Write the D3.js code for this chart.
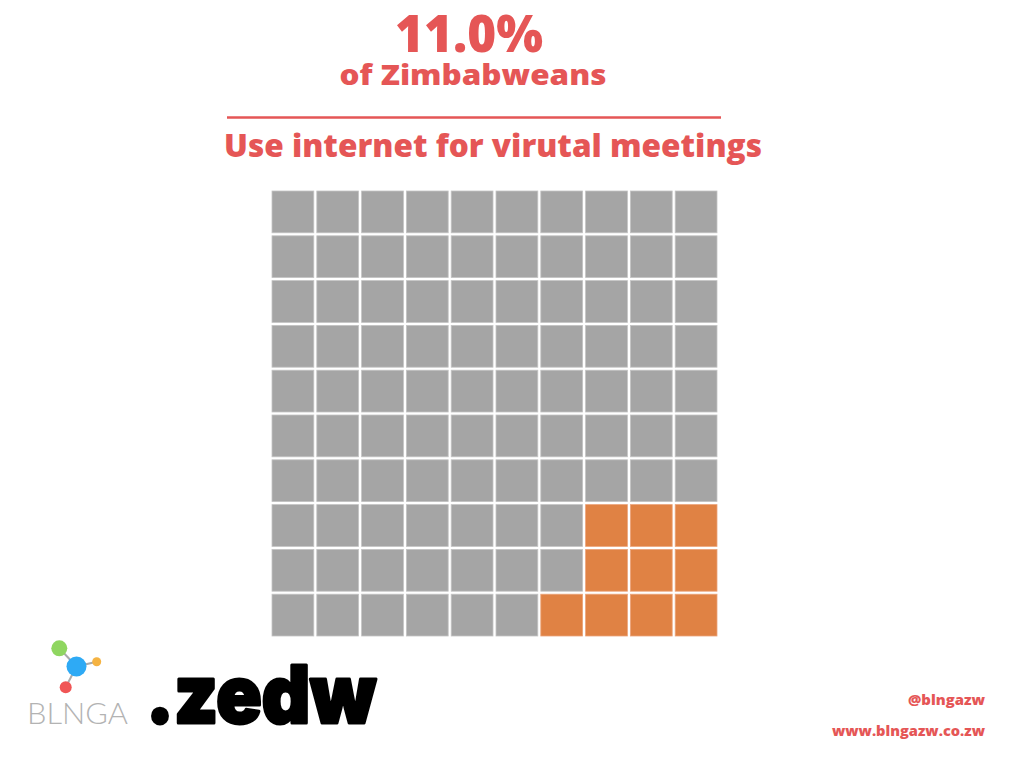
<!DOCTYPE html>
<html>
<head>
<meta charset="utf-8">
<script src="https://cdn.jsdelivr.net/npm/d3@7"></script>
<style>
  html, body { margin: 0; padding: 0; background: #ffffff; }
  svg { display: block; }
</style>
</head>
<body>
<svg id="chart" width="1024" height="768"></svg>
<script>
// ---- data ----
const headline = "11.0%";
const headlineSub = "of Zimbabweans";
const subtitle = "Use internet for virutal meetings";
const gridRows = [0, 1, 2, 3, 4, 5, 6, 7, 8, 9];
const gridCols = [0, 1, 2, 3, 4, 5, 6, 7, 8, 9];
// number of highlighted cells in each row (top to bottom), counted from the right edge
const filledPerRow = [0, 0, 0, 0, 0, 0, 0, 3, 3, 4];
const categories = ["Other", "Use internet for virtual meetings"];
const categoryColors = ["#a5a5a5", "#e08244"];
const handle = "@blngazw";
const website = "www.blngazw.co.zw";
const brandName = "BLNGA";
const brandMark = ".zedw";

// ---- drawing ----
const svg = d3.select("#chart");
const red = "#e55656";

const x = d3.scaleBand().domain(gridCols).range([272, 717]).paddingInner(0.067).paddingOuter(0);
const y = d3.scaleBand().domain(gridRows).range([191, 636]).paddingInner(0.067).paddingOuter(0);
const color = d3.scaleOrdinal().domain(categories).range(categoryColors);

const cells = [];
gridRows.forEach(r => {
  gridCols.forEach(c => {
    const filled = c >= gridCols.length - filledPerRow[r];
    cells.push({ r, c, cat: filled ? categories[1] : categories[0] });
  });
});

svg.append("g").selectAll("rect").data(cells).join("rect")
  .attr("x", d => x(d.c))
  .attr("y", d => y(d.r))
  .attr("width", x.bandwidth())
  .attr("height", y.bandwidth())
  .attr("fill", d => color(d.cat))
  .attr("stroke", d => d.cat === categories[0] ? "#c4c4c4" : "#eba47a")
  .attr("stroke-width", 0.8);

// titles
const font = "'Open Sans', 'Noto Sans', sans-serif";
function title(txt, cx, by, size, len) {
  svg.append("text").attr("x", cx).attr("y", by)
    .attr("text-anchor", "middle").attr("font-family", font)
    .attr("font-weight", 800).attr("font-size", size).attr("fill", red)
    .attr("textLength", len).attr("lengthAdjust", "spacingAndGlyphs")
    .text(txt);
}
title(headline, 469, 52, 52, 148);
title(headlineSub, 473, 85, 28, 267);
svg.append("line").attr("x1", 227).attr("x2", 721).attr("y1", 117.5).attr("y2", 117.5)
  .attr("stroke", red).attr("stroke-width", 2.5);
title(subtitle, 493, 157, 31, 538);

// footer
function foot(txt, by, len) {
  svg.append("text").attr("x", 985).attr("y", by)
    .attr("text-anchor", "end").attr("font-family", font)
    .attr("font-weight", 800).attr("font-size", 14.5).attr("fill", red)
    .attr("textLength", len).attr("lengthAdjust", "spacingAndGlyphs")
    .text(txt);
}
foot(handle, 705, 77);
foot(website, 736, 153);

// logo: molecule
const logo = svg.append("g");
const hub = [76.5, 666.5];
[[59.3, 648.3], [96.7, 661.7], [65.7, 687.3]].forEach(p => {
  logo.append("line").attr("x1", hub[0]).attr("y1", hub[1]).attr("x2", p[0]).attr("y2", p[1])
    .attr("stroke", "#aaaaaa").attr("stroke-width", 2);
});
logo.append("circle").attr("cx", 59.3).attr("cy", 648.3).attr("r", 8).attr("fill", "#8fd660");
logo.append("circle").attr("cx", 96.7).attr("cy", 661.7).attr("r", 4.5).attr("fill", "#f5b342");
logo.append("circle").attr("cx", 65.7).attr("cy", 687.3).attr("r", 6).attr("fill", "#f05555");
logo.append("circle").attr("cx", hub[0]).attr("cy", hub[1]).attr("r", 10).attr("fill", "#2eaaf5");
logo.append("text").attr("x", 27).attr("y", 724)
  .attr("font-family", "Lato, 'Open Sans', sans-serif").attr("font-weight", 300)
  .attr("font-size", 30).attr("fill", "#b3b3b3")
  .attr("textLength", 101).attr("lengthAdjust", "spacingAndGlyphs")
  .text(brandName);
logo.append("text").attr("x", 146).attr("y", 722.5)
  .attr("font-family", "Inter, Roboto, sans-serif").attr("font-weight", 900)
  .attr("font-size", 80).attr("fill", "#000000")
  .attr("stroke", "#000000").attr("stroke-width", 3).attr("stroke-linejoin", "round")
  .attr("textLength", 230).attr("lengthAdjust", "spacingAndGlyphs")
  .text(brandMark);
</script>
</body>
</html>
